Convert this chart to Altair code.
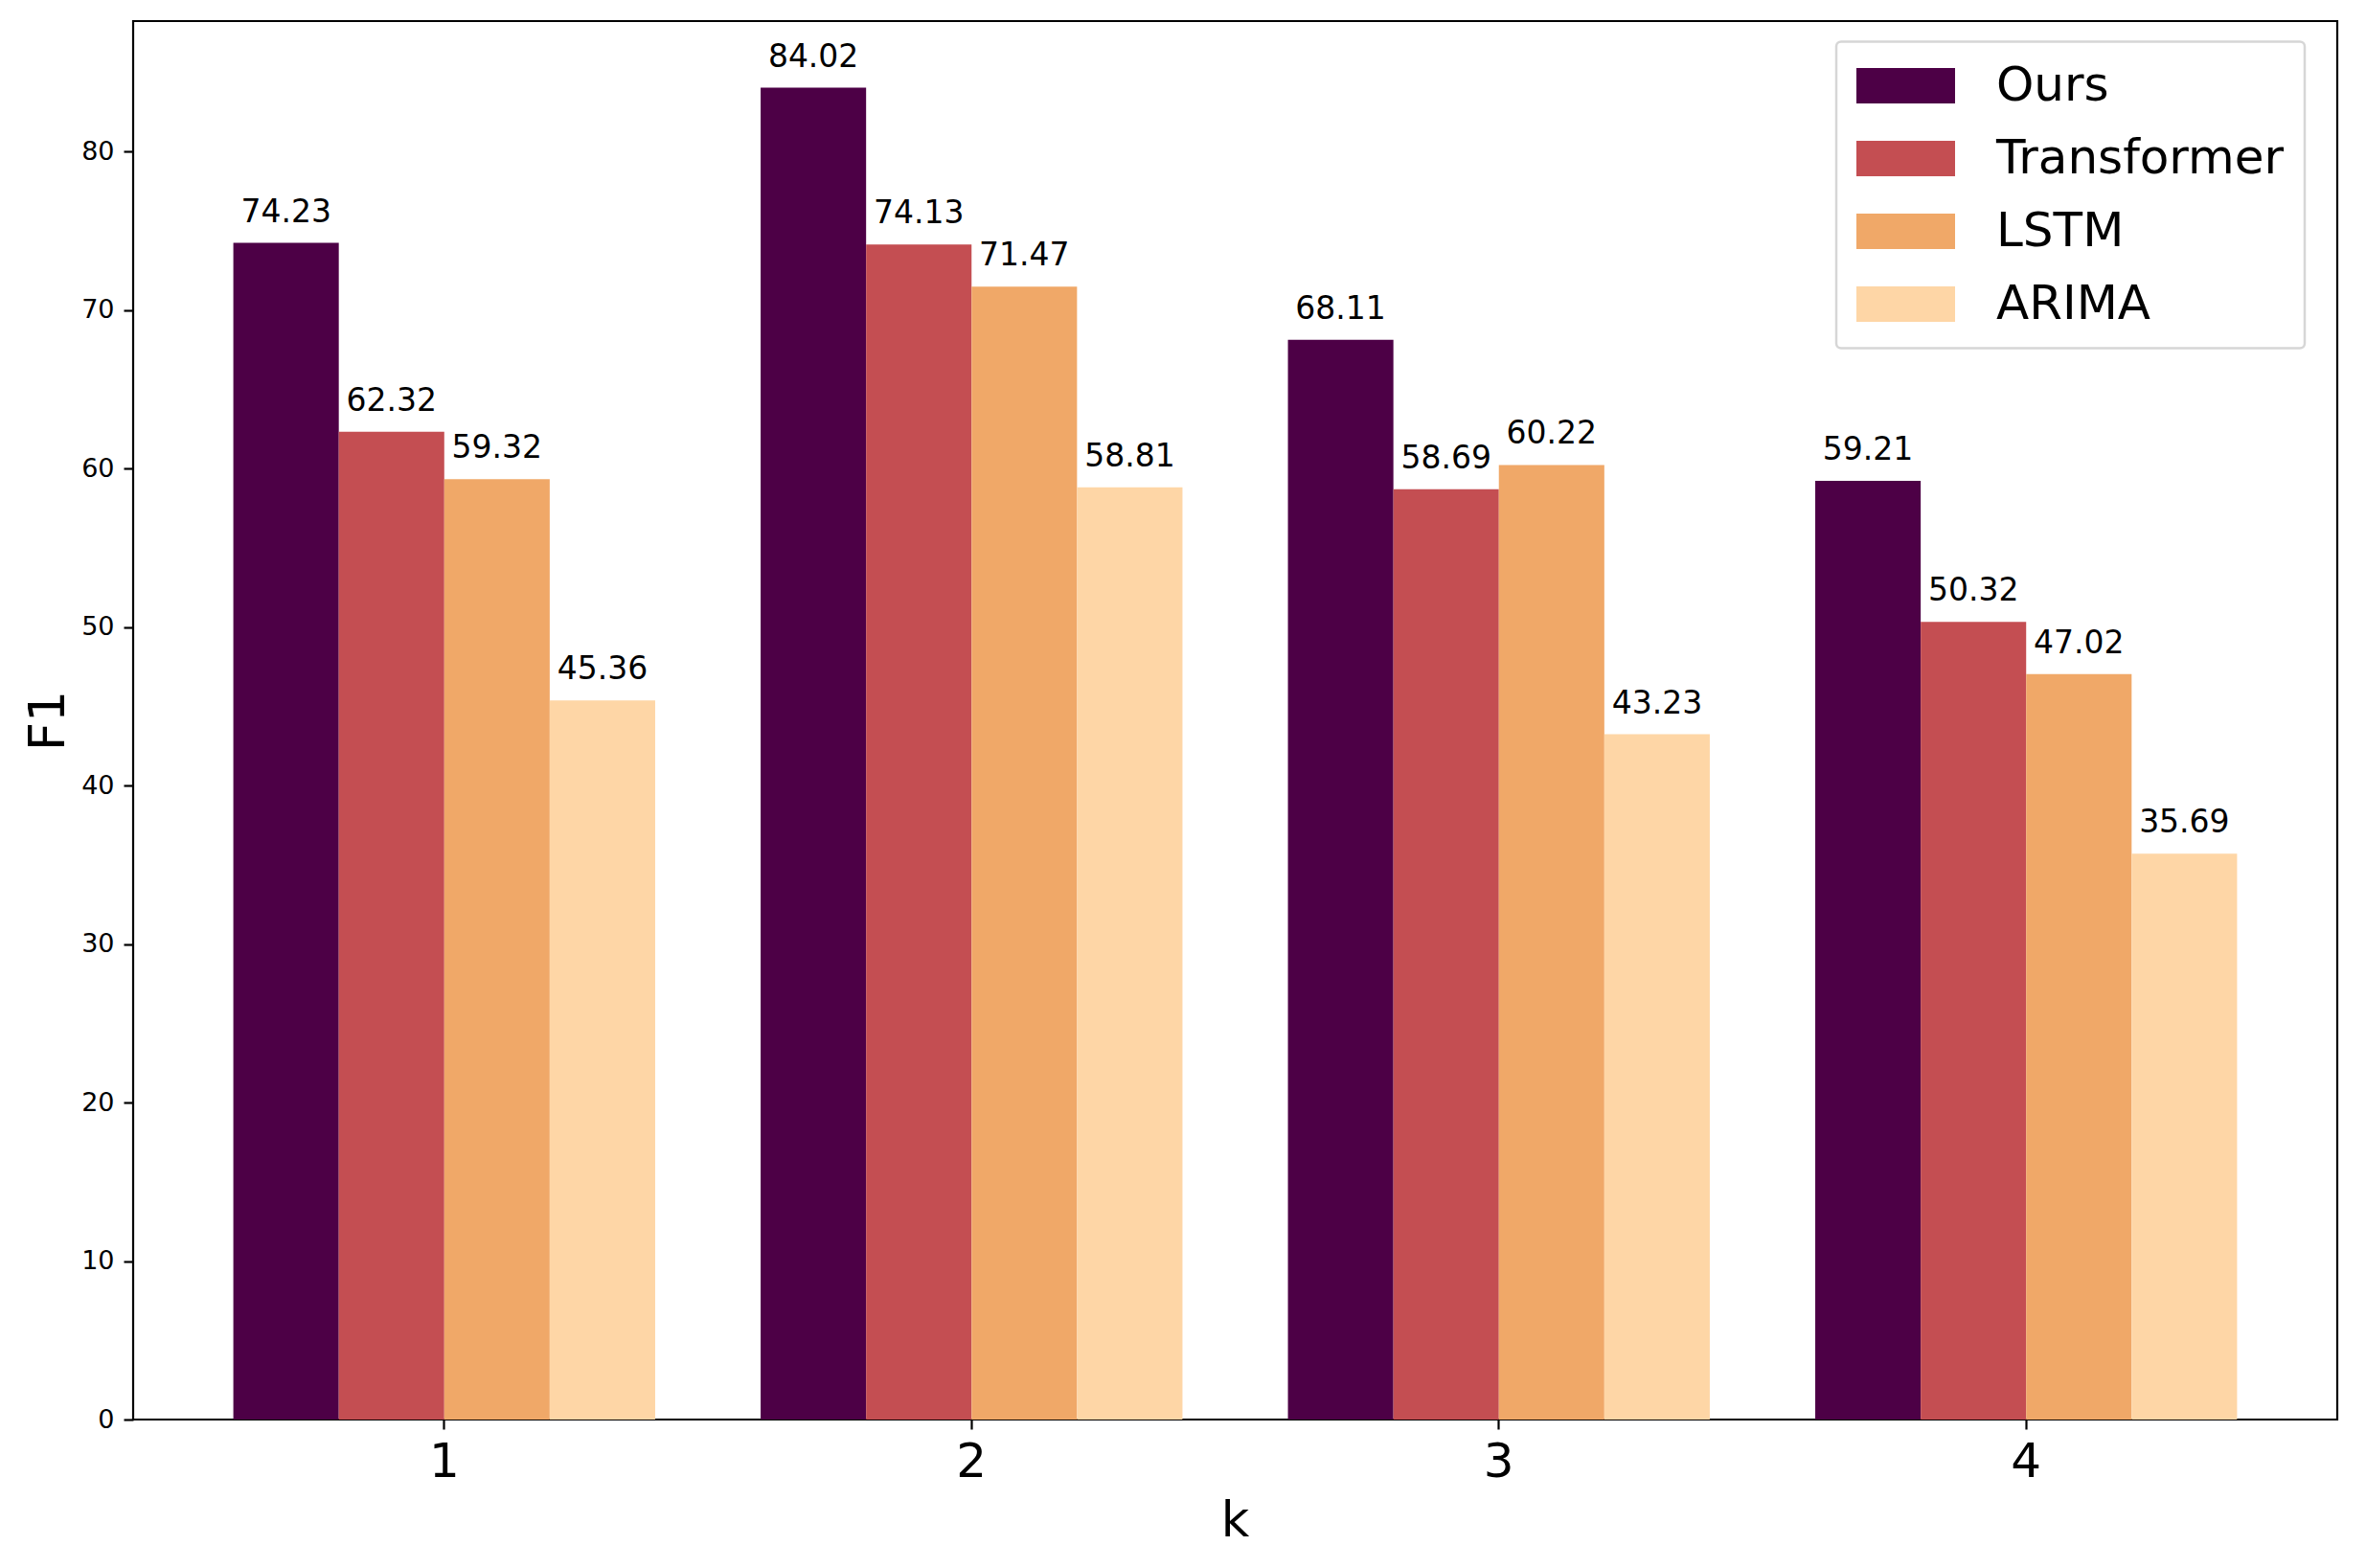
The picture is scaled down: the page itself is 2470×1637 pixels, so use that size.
import altair as alt
import pandas as pd

ks = ["1", "2", "3", "4"]
models = ["Ours", "Transformer", "LSTM", "ARIMA"]
ours = [74.23, 84.02, 68.11, 59.21]
transformer = [62.32, 74.13, 58.69, 50.32]
lstm = [59.32, 71.47, 60.22, 47.02]
arima = [45.36, 58.81, 43.23, 35.69]
colors = ["#4d0046", "#c44e52", "#f0a868", "#fed6a6"]
y_ticks = [0, 10, 20, 30, 40, 50, 60, 70, 80]

series = {"Ours": ours, "Transformer": transformer, "LSTM": lstm, "ARIMA": arima}
rows = []
for m in models:
    for k, v in zip(ks, series[m]):
        rows.append({"k": k, "model": m, "F1": v})
df = pd.DataFrame(rows)

FONT = "DejaVu Sans"

x_enc = alt.X(
    "k:N",
    sort=ks,
    scale=alt.Scale(paddingInner=0.2, paddingOuter=0.19),
    axis=alt.Axis(
        title="k",
        labelAngle=0,
        labelFontSize=50,
        labelBaseline="alphabetic",
        labelPadding=49,
        tickSize=10,
        tickWidth=2.2,
        tickColor="black",
        labelColor="black",
        domain=False,
        grid=False,
        titleFontSize=51,
        titleFontWeight="normal",
        titleBaseline="alphabetic",
        titleX=1150,
        titleY=121,
        titleAlign="center",
        titleColor="black",
    ),
)
xoff_enc = alt.XOffset(
    "model:N", sort=models, scale=alt.Scale(paddingInner=0, paddingOuter=0)
)
y_enc = alt.Y(
    "F1:Q",
    scale=alt.Scale(domain=[0, 88.22], nice=False, zero=True),
    axis=alt.Axis(
        title="F1",
        values=y_ticks,
        labelFontSize=27,
        labelPadding=10,
        tickSize=10,
        tickWidth=2.2,
        tickColor="black",
        labelColor="black",
        domain=False,
        grid=False,
        titleFontSize=52,
        titleFontWeight="normal",
        titleAngle=270,
        titleBaseline="alphabetic",
        titleAlign="center",
        titleX=-73,
        titleY=730,
        titleColor="black",
    ),
)

base = alt.Chart(df).encode(x=x_enc, xOffset=xoff_enc, y=y_enc)

bars = base.mark_bar(strokeWidth=0).encode(
    color=alt.Color(
        "model:N",
        sort=models,
        scale=alt.Scale(domain=models, range=colors),
        legend=alt.Legend(
            title=None,
            orient="none",
            legendX=1778,
            legendY=21.5,
            padding=21,
            rowPadding=26,
            clipHeight=50,
            labelOffset=43,
            symbolOffset=0,
            labelFontSize=50,
            labelLimit=1000,
            labelColor="black",
            symbolType="M-1,-0.36H1V0.36H-1Z",
            symbolSize=10609,
            symbolStrokeWidth=0,
            symbolOpacity=1,
            fillColor="white",
            strokeColor="#d6d6d6",
            cornerRadius=5,
        ),
    )
)

labels = base.mark_text(
    baseline="alphabetic", align="center", dy=-22, fontSize=33, color="black", font=FONT
).encode(text=alt.Text("F1:Q", format=".2f"))

chart = (
    alt.layer(bars, labels)
    .properties(
        width=2301,
        height=1460,
        autosize=alt.AutoSizeParams(type="none"),
        padding={"left": 131, "top": 14, "right": 15, "bottom": 135},
    )
    .configure(font=FONT, background="white")
    .configure_view(stroke="black", strokeWidth=2.2)
    .configure_legend(strokeWidth=2.5)
)

chart.save("out.html", embed_options={"renderer": "svg", "actions": False})
